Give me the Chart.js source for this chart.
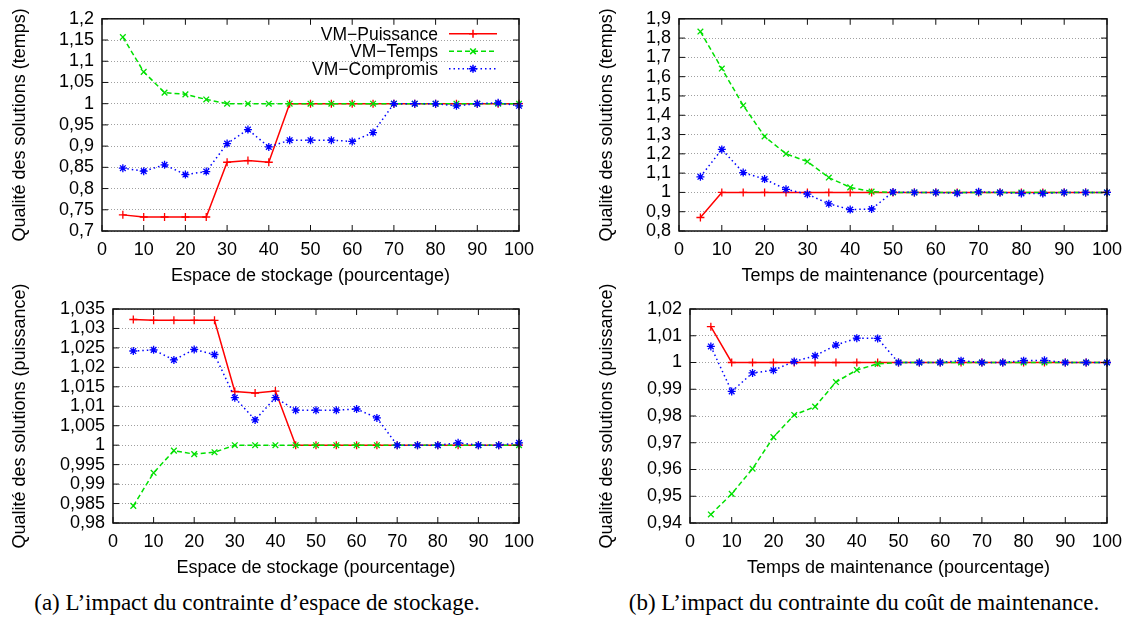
<!DOCTYPE html>
<html lang="fr">
<head>
<meta charset="UTF-8">
<title>Qualité des solutions</title>
<script src="https://cdn.jsdelivr.net/npm/chart.js@4"></script>
<style>
    body { margin: 0; background: #fff; }
    #page { position: relative; width: 1132px; height: 619px; overflow: hidden; }
    canvas { position: absolute; }
    .legende {
        position: absolute; top: 589px; line-height: 28px;
        font-family: "Liberation Serif", serif; font-size: 23px; color: #000;
        white-space: nowrap; transform: translateX(-50%);
    }
</style>
</head>
<body>
<div id="page">
    <canvas id="c1" width="560" height="290" style="left:0;top:0"></canvas>
    <canvas id="c2" width="545" height="290" style="left:587px;top:0"></canvas>
    <canvas id="c3" width="560" height="312" style="left:0;top:270px"></canvas>
    <canvas id="c4" width="545" height="312" style="left:587px;top:270px"></canvas>
    <div class="legende" style="left:257px">(a) L’impact du contrainte d’espace de stockage.</div>
    <div class="legende" style="left:864px">(b) L’impact du contrainte du coût de maintenance.</div>
</div>

<script>
    // abscisses communes
    const pourcentages = [5, 10, 15, 20, 25, 30, 35, 40, 45, 50, 55, 60, 65, 70, 75, 80, 85, 90, 95, 100];
    const ticksX = [0, 10, 20, 30, 40, 50, 60, 70, 80, 90, 100];

    // (a) espace de stockage / temps
    const puissanceStockageTemps = [0.738, 0.733, 0.733, 0.733, 0.733, 0.862, 0.866, 0.862, 1, 1, 1, 1, 1, 1, 1, 1, 1, 1, 1, 1];
    const tempsStockageTemps = [1.157, 1.075, 1.026, 1.022, 1.01, 1.0, 1, 1, 1, 1, 1, 1, 1, 1, 1, 1, 1, 1, 1, 1];
    const compromisStockageTemps = [0.848, 0.841, 0.856, 0.833, 0.840, 0.906, 0.939, 0.898, 0.914, 0.914, 0.914, 0.911, 0.932, 1.0, 1.0, 1.0, 0.995, 1.0, 1.002, 0.995];
    const ticksStockageTemps = [0.7, 0.75, 0.8, 0.85, 0.9, 0.95, 1, 1.05, 1.1, 1.15, 1.2];

    // (b) temps de maintenance / temps
    const puissanceMaintTemps = [0.87, 1, 1, 1, 1, 1, 1, 1, 1, 1, 1, 1, 1, 1, 1, 1, 1, 1, 1, 1];
    const tempsMaintTemps = [1.834, 1.642, 1.451, 1.29, 1.2, 1.16, 1.077, 1.026, 1.004, 1, 1, 1, 1, 1, 1, 1, 1, 1, 1, 1];
    const compromisMaintTemps = [1.081, 1.223, 1.103, 1.069, 1.016, 0.991, 0.941, 0.911, 0.914, 1.002, 1.0, 1.0, 0.996, 1.003, 1.0, 0.995, 0.995, 1.0, 1.0, 1.0];
    const ticksMaintTemps = [0.8, 0.9, 1, 1.1, 1.2, 1.3, 1.4, 1.5, 1.6, 1.7, 1.8, 1.9];

    // (a) espace de stockage / puissance
    const puissanceStockagePuis = [1.0323, 1.0321, 1.0321, 1.0321, 1.0321, 1.0138, 1.0134, 1.0139, 1, 1, 1, 1, 1, 1, 1, 1, 1, 1, 1, 1];
    const tempsStockagePuis = [0.9844, 0.9929, 0.9986, 0.9977, 0.9982, 1, 1, 1, 1, 1, 1, 1, 1, 1, 1, 1, 1, 1, 1, 1];
    const compromisStockagePuis = [1.0242, 1.0245, 1.0219, 1.0246, 1.0233, 1.0122, 1.0065, 1.0122, 1.009, 1.009, 1.009, 1.0093, 1.007, 1, 1, 1, 1.0006, 1, 1, 1.0006];
    const ticksStockagePuis = [0.98, 0.985, 0.99, 0.995, 1, 1.005, 1.01, 1.015, 1.02, 1.025, 1.03, 1.035];

    // (b) temps de maintenance / puissance
    const puissanceMaintPuis = [1.0134, 1, 1, 1, 1, 1, 1, 1, 1, 1, 1, 1, 1, 1, 1, 1, 1, 1, 1, 1];
    const tempsMaintPuis = [0.9432, 0.9509, 0.9603, 0.9721, 0.9804, 0.9835, 0.9927, 0.9972, 0.9995, 1, 1, 1, 1, 1, 1, 1, 1, 1, 1, 1];
    const compromisMaintPuis = [1.006, 0.9892, 0.9961, 0.9971, 1.0004, 1.0025, 1.0065, 1.0091, 1.009, 1.0, 1, 1, 1.0007, 1, 1, 1.0007, 1.0008, 1, 1, 1];
    const ticksMaintPuis = [0.94, 0.95, 0.96, 0.97, 0.98, 0.99, 1, 1.01, 1.02];

    Chart.defaults.font.family = '"Liberation Sans", Arial, sans-serif';
    Chart.defaults.font.size = 18;
    Chart.defaults.color = '#000';

    const styles = [
        { label: 'VM\u2212Puissance', borderColor: '#ff0000', borderDash: [], pointStyle: 'cross', order: 3 },
        { label: 'VM\u2212Temps', borderColor: '#00e000', borderDash: [5, 3], pointStyle: 'crossRot', order: 2 },
        { label: 'VM\u2212Compromis', borderColor: '#0000ff', borderDash: [1.5, 3], pointStyle: 'star', order: 1 }
    ];

    // 1 -> "1", 0.95 -> "0,95"
    function virgule(v) {
        return Number(v.toFixed(4)).toString().replace('.', ',');
    }

    // cadre et graduations vers l'intérieur, façon gnuplot
    const cadre = {
        id: 'cadre',
        afterDraw(chart) {
            const ctx = chart.ctx;
            const a = chart.chartArea;
            const sx = chart.scales.x, sy = chart.scales.y;
            ctx.save();
            ctx.strokeStyle = '#111';
            ctx.lineWidth = 1;
            ctx.beginPath();
            sx.ticks.forEach(t => {
                const px = sx.getPixelForValue(t.value);
                ctx.moveTo(px, a.bottom); ctx.lineTo(px, a.bottom - 6);
                ctx.moveTo(px, a.top); ctx.lineTo(px, a.top + 6);
            });
            sy.ticks.forEach(t => {
                const py = sy.getPixelForValue(t.value);
                ctx.moveTo(a.left, py); ctx.lineTo(a.left + 6, py);
                ctx.moveTo(a.right, py); ctx.lineTo(a.right - 6, py);
            });
            ctx.stroke();
            ctx.lineWidth = 1.5;
            ctx.strokeRect(a.left, a.top, a.right - a.left, a.bottom - a.top);
            ctx.restore();
        }
    };

    // légende dans le graphe, texte à gauche de l'échantillon
    const legendeInterne = {
        id: 'legendeInterne',
        afterDraw(chart) {
            const ctx = chart.ctx;
            const a = chart.chartArea;
            ctx.save();
            ctx.font = '17.5px "Liberation Sans", Arial, sans-serif';
            ctx.textAlign = 'right';
            ctx.textBaseline = 'middle';
            styles.forEach((s, i) => {
                const y = a.top + 15 + i * 17.5;
                ctx.fillStyle = '#000';
                ctx.fillText(s.label, a.right - 81, y + 1);
                ctx.strokeStyle = s.borderColor;
                ctx.lineWidth = 1.5;
                ctx.setLineDash(s.borderDash);
                ctx.beginPath();
                ctx.moveTo(a.right - 70, y);
                ctx.lineTo(a.right - 22, y);
                ctx.stroke();
                ctx.setLineDash([]);
                Chart.helpers.drawPoint(ctx, { pointStyle: s.pointStyle, radius: 4, rotation: 0, borderWidth: 1.3 }, a.right - 46, y);
            });
            ctx.restore();
        }
    };

    function tracer(id, series, yTicks, titreX, titreY, largeurAxeY, margeHaut, avecLegende) {
        const canvas = document.getElementById(id);
        const datasets = series.map((vals, i) => ({
            label: styles[i].label,
            data: vals.map((v, k) => ({ x: pourcentages[k], y: v })),
            borderColor: styles[i].borderColor,
            borderDash: styles[i].borderDash,
            borderWidth: 1.5,
            pointStyle: styles[i].pointStyle,
            pointRadius: 4,
            pointBorderWidth: 1.3,
            pointBorderColor: styles[i].borderColor,
            order: styles[i].order,
            tension: 0,
            fill: false,
            clip: false
        }));
        const plugins = [cadre];
        if (avecLegende) plugins.push(legendeInterne);

        return new Chart(canvas, {
            type: 'line',
            data: { datasets: datasets },
            plugins: plugins,
            options: {
                responsive: false,
                animation: false,
                events: [],
                layout: { padding: { top: margeHaut, right: canvas.width === 560 ? 41 : 25, left: 0, bottom: 0 } },
                plugins: { legend: { display: false }, tooltip: { enabled: false } },
                scales: {
                    x: {
                        type: 'linear',
                        min: 0,
                        max: 100,
                        afterBuildTicks: ax => { ax.ticks = ticksX.map(v => ({ value: v })); },
                        afterFit: ax => { ax.height = 59; },
                        ticks: { padding: 8, maxRotation: 0, autoSkip: false },
                        grid: { display: false, drawTicks: false },
                        border: { display: false },
                        title: { display: true, text: titreX, padding: { top: 0, bottom: 3 } }
                    },
                    y: {
                        type: 'linear',
                        min: yTicks[0],
                        max: yTicks[yTicks.length - 1],
                        afterBuildTicks: ax => { ax.ticks = yTicks.map(v => ({ value: v })); },
                        afterFit: ax => { ax.width = largeurAxeY; },
                        ticks: { padding: 8, autoSkip: false, callback: v => virgule(v) },
                        grid: { color: '#a0a0a0', lineWidth: 1, drawTicks: false },
                        border: { display: false, dash: [1, 2] },
                        title: { display: true, text: titreY, padding: { top: 9, bottom: 0 } }
                    }
                }
            }
        });
    }

    tracer('c1', [puissanceStockageTemps, tempsStockageTemps, compromisStockageTemps], ticksStockageTemps,
        'Espace de stockage (pourcentage)', 'Qualité des solutions (temps)', 102, 15, true);
    tracer('c2', [puissanceMaintTemps, tempsMaintTemps, compromisMaintTemps], ticksMaintTemps,
        'Temps de maintenance (pourcentage)', 'Qualité des solutions (temps)', 92, 15, false);
    tracer('c3', [puissanceStockagePuis, tempsStockagePuis, compromisStockagePuis], ticksStockagePuis,
        'Espace de stockage (pourcentage)', 'Qualité des solutions (puissance)', 113, 39, false);
    tracer('c4', [puissanceMaintPuis, tempsMaintPuis, compromisMaintPuis], ticksMaintPuis,
        'Temps de maintenance (pourcentage)', 'Qualité des solutions (puissance)', 103, 39, false);
</script>
</body>
</html>
